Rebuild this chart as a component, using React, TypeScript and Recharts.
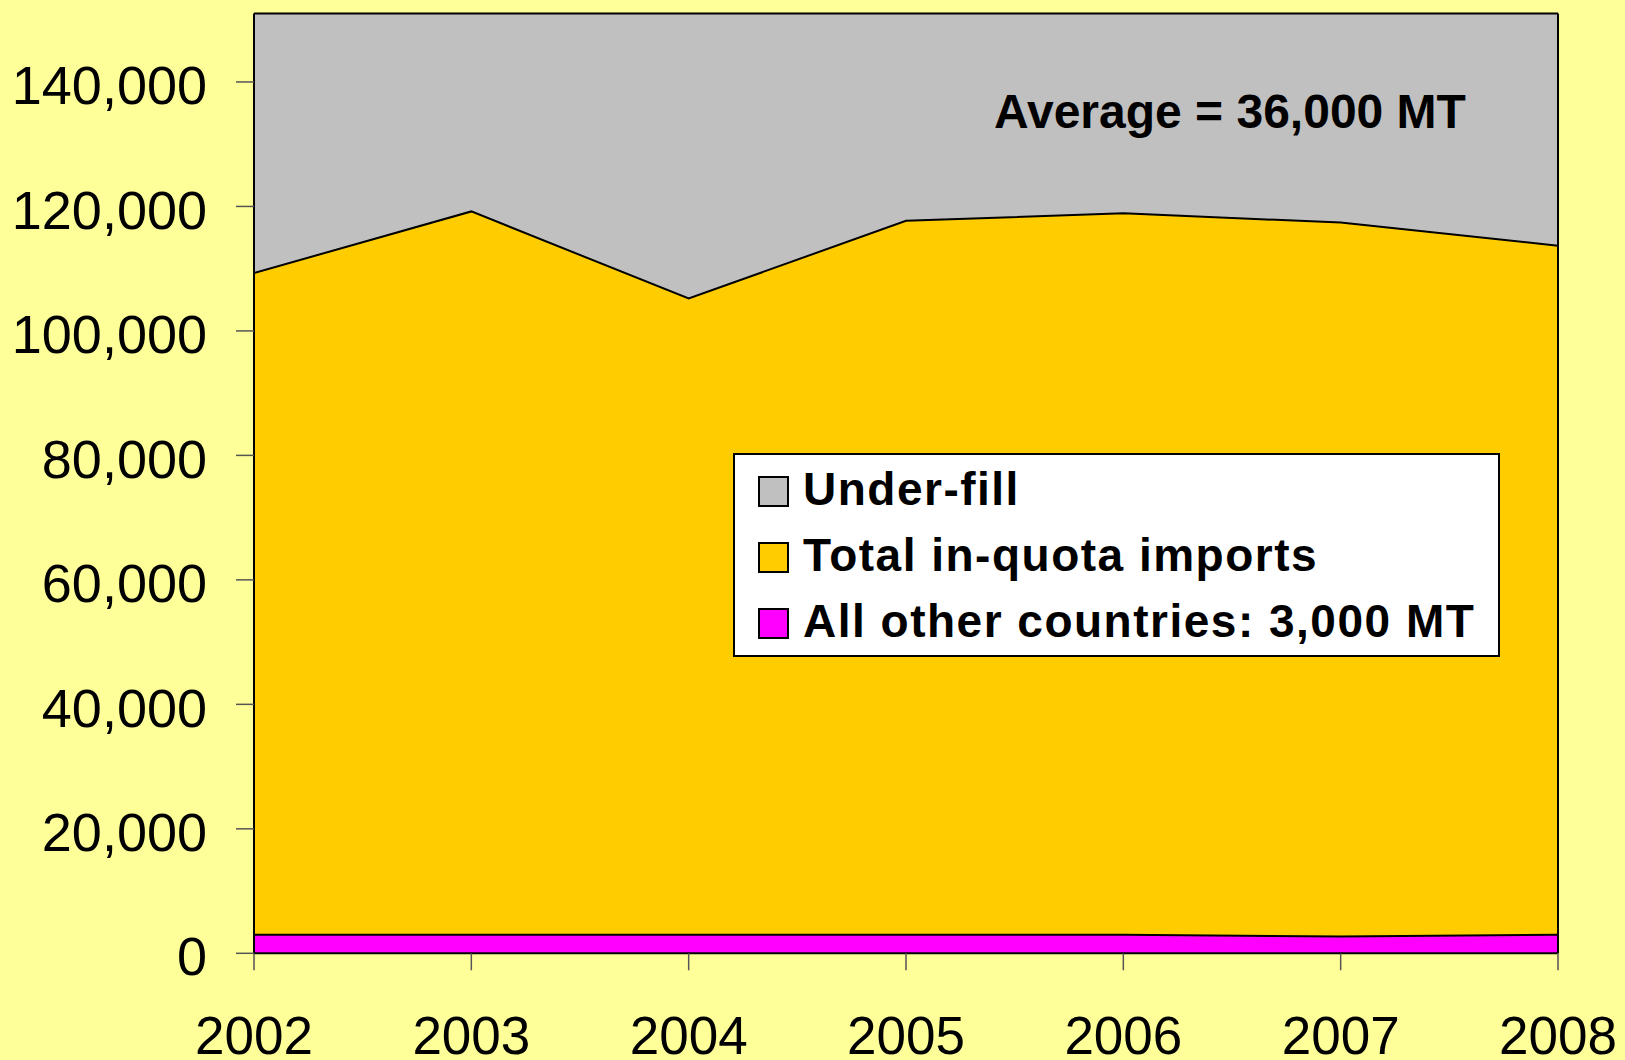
import React from 'react';
import { AreaChart, Area, XAxis, YAxis, ReferenceLine, Legend } from 'recharts';

const years = ['2002', '2003', '2004', '2005', '2006', '2007', '2008'];
const otherCountries = [3000, 3000, 3000, 3000, 3000, 2700, 3000];
const totalImports = [109300, 119200, 105200, 117700, 118900, 117400, 113700];
const underFill = [41700, 31800, 45800, 33300, 32100, 33600, 37300];
const yTicks = [0, 20000, 40000, 60000, 80000, 100000, 120000, 140000];

const legendItems = [
  { key: 'quotaTop', label: 'Under-fill', color: '#C0C0C0' },
  { key: 'total', label: 'Total in-quota imports', color: '#FFCC00' },
  { key: 'other', label: 'All other countries: 3,000 MT', color: '#FF00FF' },
];

const annotationText = 'Average = 36,000 MT';

const data = years.map((year, i) => ({
  year,
  other: otherCountries[i],
  total: totalImports[i],
  quotaTop: totalImports[i] + underFill[i],
}));

const FONT = '"Liberation Sans", Arial, Helvetica, sans-serif';

const renderLegend = () => (
  <div
    style={{
      width: 767,
      height: 204,
      boxSizing: 'border-box',
      background: '#FFFFFF',
      border: '2px solid #000',
      paddingTop: 1,
      fontFamily: FONT,
      fontWeight: 'bold',
      fontSize: 46,
      letterSpacing: 1.5,
      color: '#000',
    }}
  >
    {legendItems.map((it) => (
      <div key={it.key} style={{ display: 'flex', alignItems: 'center', height: 66 }}>
        <span
          style={{
            display: 'inline-block',
            width: 31,
            height: 31,
            boxSizing: 'border-box',
            border: '2px solid #000',
            background: it.color,
            marginLeft: 23,
            marginRight: 14,
            marginTop: 4,
          }}
        />
        <span style={{ lineHeight: '66px', whiteSpace: 'nowrap' }}>{it.label}</span>
      </div>
    ))}
  </div>
);

export default function App() {
  return (
    <div
      style={{
        position: 'absolute',
        left: 0,
        top: 0,
        width: 1625,
        height: 1060,
        background: '#FFFF99',
        overflow: 'hidden',
      }}
    >
      <AreaChart
        width={1625}
        height={1060}
        data={data}
        margin={{ top: 13.5, right: 67, bottom: 0, left: 0 }}
      >
        <XAxis
          dataKey="year"
          type="category"
          height={106.7}
          tickSize={17}
          tickMargin={46}
          axisLine={{ stroke: '#000', strokeWidth: 2 }}
          tickLine={{ stroke: '#555', strokeWidth: 1.5 }}
          tick={{ fill: '#000', fontSize: 53, fontFamily: FONT }}
          interval={0}
        />
        <YAxis
          width={254}
          domain={[0, 151000]}
          ticks={yTicks}
          allowDataOverflow
          tickSize={18}
          tickMargin={29}
          axisLine={{ stroke: '#000', strokeWidth: 2 }}
          tickLine={{ stroke: '#555', strokeWidth: 1.5 }}
          tick={{ fill: '#000', fontSize: 54, fontFamily: FONT, dy: 3 }}
          tickFormatter={(v: number) => v.toLocaleString('en-US')}
        />
        <Area
          type="linear"
          dataKey="quotaTop"
          name="Under-fill"
          fill="#C0C0C0"
          fillOpacity={1}
          stroke="none"
          isAnimationActive={false}
          dot={false}
          activeDot={false}
        />
        <Area
          type="linear"
          dataKey="total"
          name="Total in-quota imports"
          fill="#FFCC00"
          fillOpacity={1}
          stroke="#000"
          strokeWidth={2}
          isAnimationActive={false}
          dot={false}
          activeDot={false}
        />
        <Area
          type="linear"
          dataKey="other"
          name="All other countries: 3,000 MT"
          fill="#FF00FF"
          fillOpacity={1}
          stroke="#000"
          strokeWidth={2}
          isAnimationActive={false}
          dot={false}
          activeDot={false}
        />
        <ReferenceLine y={151000} stroke="#000" strokeWidth={2} />
        <ReferenceLine x="2008" stroke="#000" strokeWidth={2} />
        <Legend
          layout="horizontal"
          verticalAlign="middle"
          align="center"
          content={renderLegend}
          wrapperStyle={{ position: 'absolute', left: 733, top: 453, width: 767, height: 204 }}
        />
      </AreaChart>
      <div
        style={{
          position: 'absolute',
          left: 1230,
          top: 87.5,
          transform: 'translateX(-50%)',
          whiteSpace: 'nowrap',
          fontFamily: FONT,
          fontWeight: 'bold',
          fontSize: 48,
          lineHeight: '48px',
          color: '#000',
        }}
      >
        {annotationText}
      </div>
    </div>
  );
}
